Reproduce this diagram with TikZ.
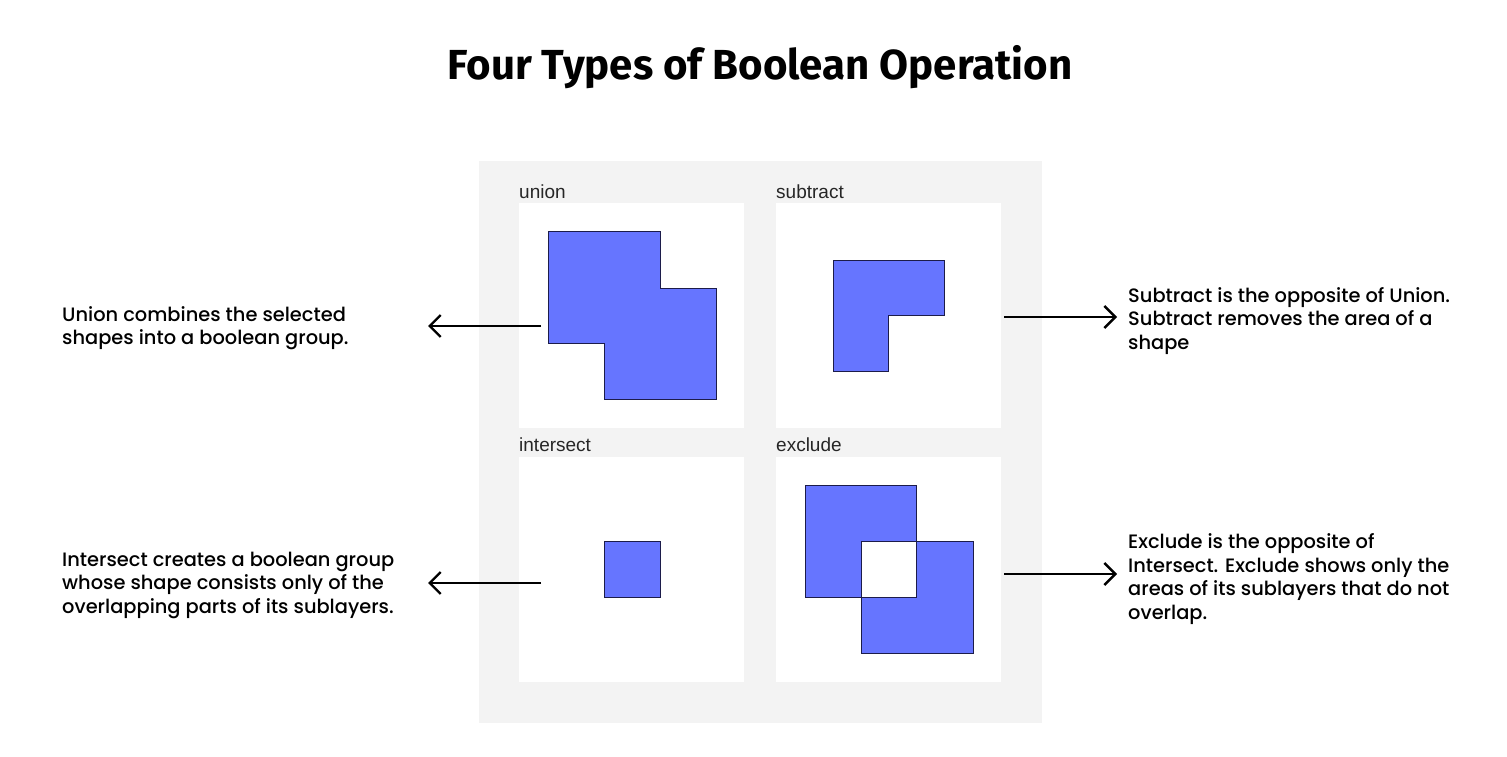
\documentclass[tikz,border=0pt]{standalone}
\usepackage{fontspec}
\setmainfont{Poppins Medium}
\newfontfamily\titlefont{Fira Sans}
\newfontfamily\labelfont{Liberation Sans}
\usetikzlibrary{arrows.meta}
\definecolor{bgpanel}{HTML}{F3F3F3}
\definecolor{shapefill}{HTML}{6675FF}
\definecolor{shapeline}{HTML}{1C1C4A}
\begin{document}
\begin{tikzpicture}[x=1pt,y=-1pt,
  panel/.style={fill=white, draw=none, minimum width=225pt, minimum height=225pt, inner sep=0pt, anchor=north west},
  plabel/.style={font=\labelfont\fontsize{19}{22}\selectfont, anchor=base west, inner sep=0pt, text=black!85},
  boolshape/.style={fill=shapefill, draw=shapeline, line width=0.9pt},
  desc/.style={font=\fontsize{19.4}{23.5}\selectfont, align=left, inner sep=0pt, text=black},
  conn/.style={line width=2.4pt, -{Straight Barb[length=11pt,width=22pt,line width=2.4pt]}}
]
\useasboundingbox (0,0) rectangle (1507,757);
\fill[white] (0,0) rectangle (1507,757);

% title
\node[font=\titlefont\bfseries\fontsize{42}{46}\selectfont, anchor=center] (title) at (760,67) {Four Types of Boolean Operation};

% gray background
\fill[bgpanel] (479,161) rectangle (1042,723);

% panels
\node[panel] (pu) at (519,203) {};
\node[panel] (ps) at (776,203) {};
\node[panel] (pi) at (519,457) {};
\node[panel] (pe) at (776,457) {};

% panel labels
\node[plabel] (lu) at (519,198) {union};
\node[plabel] (ls) at (776,198) {subtract};
\node[plabel] (li) at (519,451) {intersect};
\node[plabel] (le) at (776,451) {exclude};

% union shape
\draw[boolshape] (548,231) -- (660,231) -- (660,288) -- (716,288) -- (716,399) -- (604,399) -- (604,343) -- (548,343) -- cycle;
% subtract shape
\draw[boolshape] (833,260) -- (944,260) -- (944,315) -- (888,315) -- (888,371) -- (833,371) -- cycle;
% intersect shape
\draw[boolshape] (604,541) rectangle (660,597);
% exclude shape
\draw[boolshape] (805,485) -- (916,485) -- (916,541) -- (861,541) -- (861,597) -- (805,597) -- cycle;
\draw[boolshape] (861,597) -- (916,597) -- (916,541) -- (973,541) -- (973,653) -- (861,653) -- cycle;

% descriptions
\node[desc, anchor=west] (du) at (62,328) {Union combines the selected\\shapes into a boolean group.};
\node[desc, anchor=west] (ds) at (1128,321) {Subtract is the opposite of Union.\\Subtract removes the area of a\\shape};
\node[desc, anchor=west] (di) at (62,585) {Intersect creates a boolean group\\whose shape consists only of the\\overlapping parts of its sublayers.};
\node[desc, anchor=west] (de) at (1128,579) {Exclude is the opposite of\\Intersect. Exclude shows only the\\areas of its sublayers that do not\\overlap.};

% connectors
\coordinate (au1) at (541,326); \coordinate (au2) at (428,326);
\coordinate (as1) at (1004,317); \coordinate (as2) at (1117,317);
\coordinate (ai1) at (541,583); \coordinate (ai2) at (428,583);
\coordinate (ae1) at (1004,574); \coordinate (ae2) at (1117,574);
\draw[conn] (au1) -- (au2);
\draw[conn] (as1) -- (as2);
\draw[conn] (ai1) -- (ai2);
\draw[conn] (ae1) -- (ae2);
\end{tikzpicture}
\end{document}
